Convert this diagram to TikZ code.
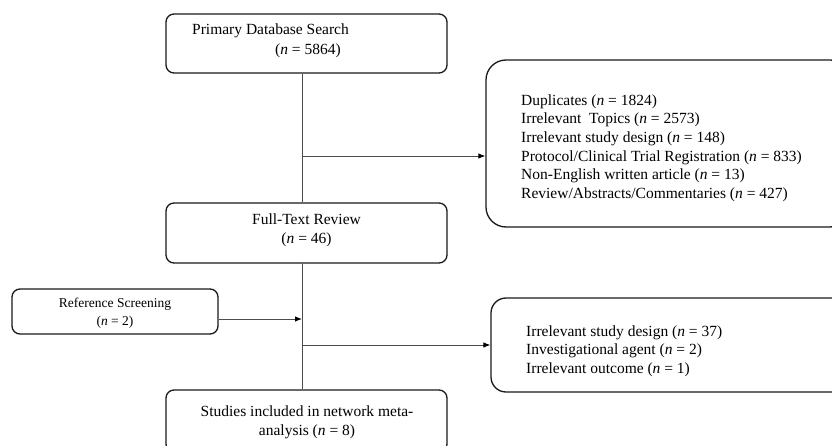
\documentclass[tikz,border=0pt]{standalone}
\usepackage{fontspec}
\setmainfont{Liberation Serif}
\usetikzlibrary{arrows.meta}
\begin{document}
\begin{tikzpicture}[x=1pt,y=-1pt,
  box/.style={draw=black!90,line width=1.3pt,rounded corners=8pt,inner sep=0pt},
  bigbox/.style={box,rounded corners=20pt},
  midbox/.style={box,rounded corners=15pt},
  txt/.style={inner sep=0pt,font=\fontsize{15.5}{18.6}\selectfont},
  smalltxt/.style={inner sep=0pt,font=\fontsize{13.5}{18.6}\selectfont},
  conn/.style={draw=black!70,line width=0.9pt},
  arr/.style={conn,-{Latex[length=7pt,width=5.5pt,black]}}]
\useasboundingbox (0,0) rectangle (832,446);
\clip (0,0) rectangle (832,446);
% boxes
\node[box,minimum width=281pt,minimum height=59pt] (search) at (306.5,43.5) {};
\node[bigbox,minimum width=364pt,minimum height=167pt] (excl1) at (668,143.5) {};
\node[box,minimum width=281pt,minimum height=60pt] (full) at (306.5,233) {};
\node[box,minimum width=206pt,minimum height=45pt] (ref) at (115,311.5) {};
\node[midbox,minimum width=359pt,minimum height=94pt] (excl2) at (670.5,345) {};
\node[box,minimum width=281pt,minimum height=62pt] (incl) at (306.5,421) {};
% texts
\node[txt,anchor=west] (t1a) at (192,31) {Primary Database Search};
\node[txt,anchor=west] (t1b) at (275,51) {(\textit{n} = 5864)};
\node[txt,anchor=west,align=left] (t2) at (521,148) {Duplicates (\textit{n} = 1824)\\
Irrelevant\ \ Topics (\textit{n} = 2573)\\
Irrelevant study design (\textit{n} = 148)\\
Protocol/Clinical Trial Registration (\textit{n} = 833)\\
Non-English written article (\textit{n} = 13)\\
Review/Abstracts/Commentaries (\textit{n} = 427)};
\node[txt,align=center] (t3) at (306.5,230) {Full-Text Review\\(\textit{n} = 46)};
\node[smalltxt,align=center] (t4) at (115,313) {Reference Screening\\(\textit{n} = 2)};
\node[txt,anchor=west,align=left] (t5) at (526,351) {Irrelevant study design (\textit{n} = 37)\\
Investigational agent (\textit{n} = 2)\\
Irrelevant outcome (\textit{n} = 1)};
\node[txt,align=center] (t6) at (307,422) {Studies included in network meta-\\analysis (\textit{n} = 8)};
% connectors
\coordinate (v) at (302,0);
\coordinate (j1) at (302,156);
\coordinate (j2) at (302,319);
\coordinate (j3) at (302,345);
\draw[conn] (search.south -| v) -- (full.north -| v);
\draw[conn] (full.south -| v) -- (incl.north -| v);
\draw[arr] (j1) -- (j1 -| excl1.west);
\draw[arr] (ref.east |- j2) -- (j2);
\draw[arr] (j3) -- (j3 -| excl2.west);
\end{tikzpicture}
\end{document}
